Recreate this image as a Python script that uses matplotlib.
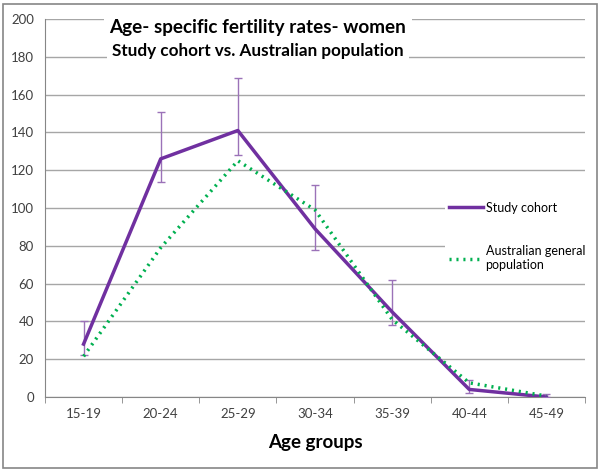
import matplotlib
matplotlib.use("Agg")
import matplotlib.pyplot as plt
from matplotlib.patches import Rectangle
import numpy as np

categories = ["15-19", "20-24", "25-29", "30-34", "35-39", "40-44", "45-49"]
study = [28, 126, 141, 89, 45, 4, 0]
study_err_low = [22, 114, 128, 78, 38, 2, 0]
study_err_high = [40, 151, 169, 112, 62, 9, 1.5]
australia = [21.5, 79, 125, 99, 41, 7.5, 0.5]
yticks = [0, 20, 40, 60, 80, 100, 120, 140, 160, 180, 200]

plt.rcParams['font.family'] = ['Lato', 'DejaVu Sans']

fig = plt.figure(figsize=(6.02, 4.72), dpi=100)
ax = fig.add_axes([45/602, 1-397/472, 540/602, 378/472])

x = np.arange(len(categories))
study = np.array(study); lo = np.array(study_err_low); hi = np.array(study_err_high)

purple = "#7030A0"
green = "#00B050"

ax.errorbar(x, study, yerr=[study - lo, hi - study], fmt='none', ecolor="#9B72B8",
            elinewidth=1, capsize=3, capthick=1, zorder=3)
l1, = ax.plot(x, study, color=purple, lw=2.5, zorder=4, label="Study cohort",
              solid_joinstyle='round')
l2, = ax.plot(x, australia, color=green, lw=2.5, ls=(0, (0.6, 1.4)), zorder=4,
              label="Australian general\npopulation", dash_capstyle='butt')

ax.set_xlim(-0.5, len(categories) - 0.5)
ax.set_ylim(0, 200)
ax.set_yticks(yticks)
ax.set_xticks(x)
ax.set_xticklabels(categories)
ax.set_xticks(np.arange(-0.5, len(categories) + 0.5, 1), minor=True)
ax.tick_params(axis='x', which='major', length=0, labelsize=9.5, colors="#404040", pad=8)
ax.tick_params(axis='x', which='minor', length=4, color="#868686", direction='out')
ax.tick_params(axis='y', length=0, labelsize=9.5, colors="#404040", pad=8)
ax.yaxis.grid(True, color="#A6A6A6", lw=1)
ax.set_axisbelow(True)
for s in ['top', 'right']:
    ax.spines[s].set_visible(False)
ax.spines['left'].set_color("#868686")
ax.spines['bottom'].set_color("#868686")

ax.set_xlabel("Age groups", fontsize=13.5, fontweight='bold', labelpad=10)

# title inside plot area
fig.text(258/602, 1-28/472, "Age- specific fertility rates- women", ha='center', va='center',
         fontsize=13.6, fontweight='bold', zorder=10,
         bbox=dict(facecolor='white', edgecolor='none', pad=4))
fig.text(258/602, 1-51/472, "Study cohort vs. Australian population", ha='center', va='center',
         fontsize=12.3, fontweight='bold', zorder=10,
         bbox=dict(facecolor='white', edgecolor='none', pad=4))

leg = fig.legend(handles=[l1, l2], loc='upper left', bbox_to_anchor=(445/602, 1-198/472),
                 frameon=True, fontsize=9, handlelength=2.7, handletextpad=0.25,
                 labelspacing=2.5, borderpad=0.3, borderaxespad=0)
leg.get_frame().set_facecolor('white')
leg.get_frame().set_edgecolor('none')
leg.get_frame().set_alpha(1)
leg.set_zorder(10)

fig.patches.append(Rectangle((3/602, 4/472), 594/602, 464/472, transform=fig.transFigure,
                             fill=False, edgecolor="#868686", lw=1.2))

fig.savefig("out.png", dpi=100)
